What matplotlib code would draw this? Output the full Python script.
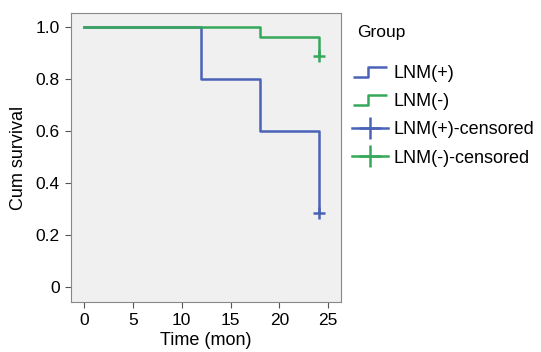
import matplotlib
matplotlib.use('Agg')
import matplotlib.pyplot as plt
from matplotlib.path import Path
from matplotlib.lines import Line2D

# Kaplan-Meier step data
pos_time = [0, 12, 18, 24]
pos_surv = [1.0, 0.8, 0.6, 0.285]
neg_time = [0, 18, 24]
neg_surv = [1.0, 0.963, 0.888]
pos_censor = (24, 0.285)
neg_censor = (24, 0.888)

blue = '#4a62b8'
green = '#36a85a'

plt.rcParams['font.family'] = ['Arial', 'Liberation Sans', 'DejaVu Sans']

fig = plt.figure(figsize=(5.41, 3.52), dpi=100)
ax = fig.add_axes([71 / 541, 1 - 302 / 352, 270 / 541, 289 / 352])
ax.set_facecolor('#f0f0f0')

ax.step(pos_time, pos_surv, where='post', color=blue, lw=1.8)
ax.step(neg_time, neg_surv, where='post', color=green, lw=1.8)
ax.plot(*pos_censor, marker='+', color=blue, ms=9, mew=1.8)
ax.plot(*neg_censor, marker='+', color=green, ms=9, mew=1.8)

ax.set_xlim(-1.33, 26.3)
ax.set_ylim(-0.058, 1.054)
ax.set_xticks([0, 5, 10, 15, 20, 25])
ax.set_yticks([0, 0.2, 0.4, 0.6, 0.8, 1.0])
ax.set_yticklabels(['0', '0.2', '0.4', '0.6', '0.8', '1.0'])
ax.tick_params(labelsize=12.5, length=4, color='#555555', pad=4)
for s in ax.spines.values():
    s.set_color('#888888')
ax.set_xlabel('Time (mon)', fontsize=13, labelpad=3)
ax.set_ylabel('Cum survival', fontsize=13, labelpad=6)

step_marker = Path([(-1, -0.3), (-0.1, -0.3), (-0.1, 0.3), (1, 0.3)],
                   [Path.MOVETO, Path.LINETO, Path.LINETO, Path.LINETO])
handles = [
    Line2D([], [], color=blue, marker=step_marker, ls='none', ms=24, mew=1.8, mfc='none'),
    Line2D([], [], color=green, marker=step_marker, ls='none', ms=24, mew=1.8, mfc='none'),
    Line2D([], [], color=blue, marker='+', ms=16, mew=1.8, ls='-', lw=1.8),
    Line2D([], [], color=green, marker='+', ms=16, mew=1.8, ls='-', lw=1.8),
]
labels = ['LNM(+)', 'LNM(-)', 'LNM(+)-censored', 'LNM(-)-censored']
fig.text(357 / 541, 1 - 32 / 352, 'Group', fontsize=12.5, va='center')
fig.legend(handles, labels, loc='upper left', bbox_to_anchor=(352 / 541, 1 - 65 / 352),
           frameon=False, fontsize=13, handlelength=2.0, handletextpad=0.3,
           labelspacing=0.62, borderaxespad=0, borderpad=0)

fig.savefig('out.png', dpi=100)
